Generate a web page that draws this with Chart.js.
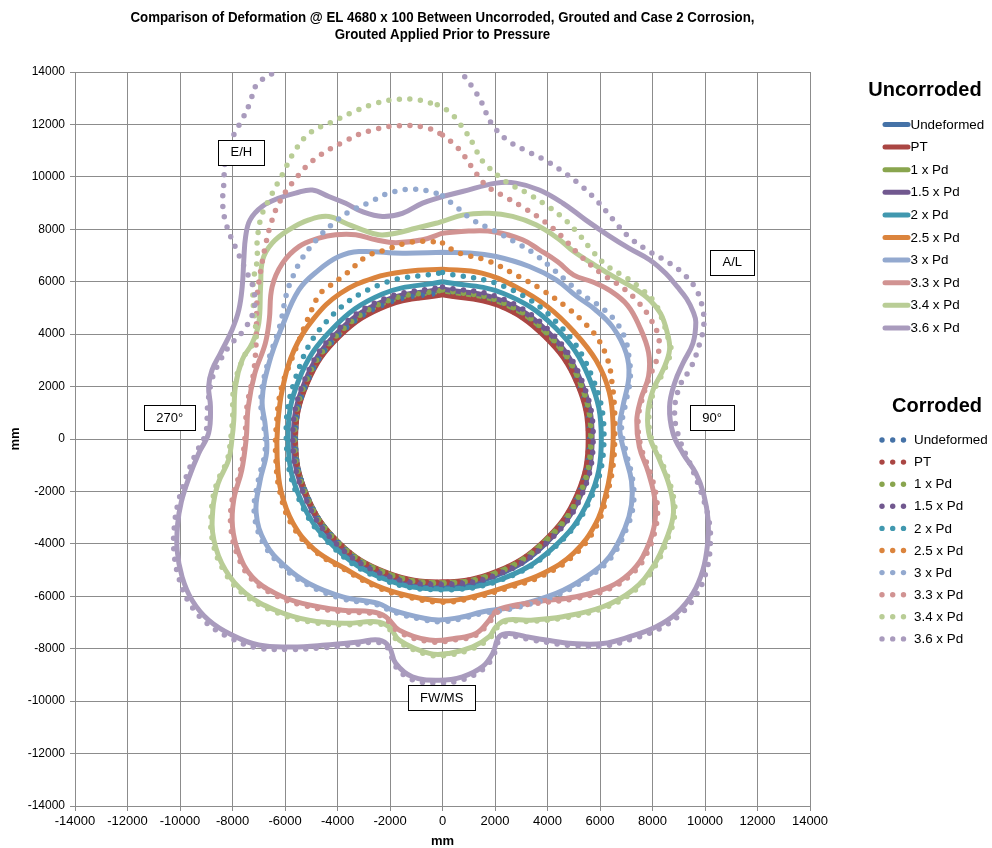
<!DOCTYPE html>
<html>
<head>
<meta charset="utf-8">
<script src="https://cdn.jsdelivr.net/npm/chart.js@4.4.1/dist/chart.umd.min.js"></script>
<style>
  html, body { margin: 0; padding: 0; background: #fff; }
  canvas { display: block; }
</style>
</head>
<body>
<canvas id="chart" width="992" height="848"></canvas>
<script>
// ---- Chart text ----
const titleLines = [
  'Comparison of Deformation @ EL 4680 x 100 Between Uncorroded, Grouted and Case 2 Corrosion,',
  'Grouted Applied Prior to Pressure'
];
const axisTitle = 'mm';
const tickValues = [-14000, -12000, -10000, -8000, -6000, -4000, -2000, 0, 2000, 4000, 6000, 8000, 10000, 12000, 14000];
const seriesNames = ['Undeformed', 'PT', '1 x Pd', '1.5 x Pd', '2 x Pd', '2.5 x Pd', '3 x Pd', '3.3 x Pd', '3.4 x Pd', '3.6 x Pd'];
const groupTitles = ['Uncorroded', 'Corroded'];
const sectionLabels = ['E/H', 'A/L', '270°', '90°', 'FW/MS'];
const sectionAt = [[-7660, 10940], [11040, 6740], [-10390, 820], [10270, 820], [-30, -9870]];

// ---- Shell contours, [x, y] in mm, traced clockwise from the top ----
const uncUndeformed = [[0,5600],[2140,5170],[3960,3960],[5170,2140],[5600,0],[5170,-2140],[3960,-3960],[2140,-5170],[0,-5600],[-2140,-5170],[-3960,-3960],[-5170,-2140],[-5600,0],[-5170,2140],[-3960,3960],[-2140,5170],[0,5600]];
const uncPT = [[0,5500],[2110,5100],[3900,3900],[5130,2120],[5550,0],[5130,-2110],[3880,-3880],[2090,-5040],[0,-5450],[-2120,-5100],[-3950,-3950],[-5170,-2140],[-5600,0],[-5150,2130],[-3920,3920],[-2110,5090],[0,5500]];
const unc1Pd = [[0,5650],[2170,5230],[4000,4000],[5230,2170],[5650,0],[5200,-2150],[3900,-3900],[2100,-5080],[0,-5480],[-2120,-5120],[-3960,-3960],[-5180,-2150],[-5620,0],[-5200,2150],[-3980,3980],[-2160,5220],[0,5650]];
const unc15Pd = [[0,5720],[2200,5300],[4050,4050],[5280,2190],[5700,0],[5250,-2170],[3950,-3950],[2130,-5130],[0,-5520],[-2150,-5180],[-4000,-4000],[-5230,-2170],[-5680,0],[-5250,2170],[-4030,4030],[-2190,5280],[0,5720]];
const unc2Pd = [[0,6000],[2300,5560],[4270,4270],[5590,2320],[6050,0],[5580,-2310],[4180,-4180],[2220,-5350],[0,-5720],[-2210,-5340],[-4120,-4120],[-5430,-2250],[-5880,0],[-5470,2270],[-4200,4200],[-2290,5530],[0,6000]];
const unc25Pd = [[0,6480],[1500,6330],[2800,5800],[4000,5050],[5000,4100],[5850,3000],[6350,1800],[6500,500],[6450,-800],[6250,-2000],[5850,-3200],[5000,-4350],[3820,-5130],[2420,-5640],[1000,-6050],[0,-6180],[-1300,-5980],[-2500,-5600],[-3700,-4950],[-4900,-4200],[-5700,-3200],[-6150,-2000],[-6300,-700],[-6280,500],[-6100,1900],[-5650,3400],[-4900,4600],[-3900,5550],[-2600,6150],[-1300,6400],[0,6480]];
const unc3Pd = [[0,7120],[1000,7100],[2040,6960],[3310,6580],[4330,6070],[5100,5450],[5800,4950],[6500,4250],[7000,3270],[7100,2380],[6870,1230],[6750,400],[6950,-600],[7200,-1600],[7200,-2500],[6950,-3400],[6360,-4490],[5470,-5260],[4330,-5890],[2670,-6400],[1500,-6600],[700,-6800],[-100,-6900],[-700,-6840],[-1900,-6530],[-2450,-6270],[-3800,-6020],[-5090,-5510],[-5980,-4870],[-6740,-3980],[-7100,-2800],[-6950,-1600],[-6700,-500],[-6750,500],[-6870,1490],[-6610,2890],[-6110,4290],[-5470,5690],[-4710,6450],[-3950,6960],[-3180,7150],[-1530,7090],[0,7120]];
const unc33Pd = [[0,7850],[1000,7930],[2000,7900],[3050,7600],[3700,7210],[4400,6750],[5000,6250],[5700,6000],[6400,5650],[7050,5100],[7500,4300],[7850,3300],[7850,2400],[7550,1500],[7400,700],[7500,-300],[7850,-1300],[8100,-2400],[8050,-3400],[7630,-4490],[7120,-5130],[6360,-5640],[5090,-6020],[3560,-6210],[2400,-6420],[2000,-6600],[1750,-6950],[1270,-7420],[500,-7600],[-500,-7670],[-1650,-7290],[-2160,-6780],[-2700,-6590],[-3820,-6530],[-5340,-6270],[-6360,-5890],[-7250,-5260],[-7760,-4360],[-8000,-3350],[-7950,-2300],[-7650,-1200],[-7480,0],[-7400,1230],[-7150,2500],[-6750,3650],[-6600,4540],[-6490,5810],[-6100,6700],[-5470,7340],[-4710,7660],[-4070,7790],[-3310,7790],[-2540,7600],[-1780,7490],[-760,7600],[0,7850]];
const unc34Pd = [[0,8300],[800,8550],[1780,8610],[2670,8490],[3560,8170],[4400,7650],[5000,7150],[5700,6700],[6500,6200],[7300,5750],[7900,5300],[8300,4800],[8550,4100],[8650,3400],[8400,2630],[8020,1870],[7820,980],[7890,90],[8270,-800],[8650,-1820],[8800,-2800],[8560,-3730],[8020,-4870],[7250,-5760],[6110,-6400],[4580,-6780],[3310,-6910],[2420,-6910],[2040,-7160],[1780,-7540],[1150,-7930],[250,-8180],[-500,-8180],[-1650,-7670],[-2040,-7160],[-2540,-6970],[-3690,-7030],[-5090,-6910],[-6360,-6530],[-7500,-5890],[-8270,-5000],[-8710,-3850],[-8750,-2700],[-8550,-1700],[-8150,-800],[-8020,0],[-7950,730],[-7890,2000],[-7630,3020],[-7250,3650],[-7000,4410],[-6930,5810],[-6850,6830],[-6490,7470],[-5850,7980],[-5090,8360],[-4330,8490],[-3690,8230],[-3050,7980],[-2420,7790],[-1780,7850],[-1020,8040],[-250,8230],[0,8300]];
const unc36Pd = [[0,9250],[760,9440],[2040,9760],[2800,9760],[3690,9500],[4580,9000],[5450,8360],[6300,7780],[7100,7280],[7900,6830],[8500,6320],[8950,5800],[9300,5350],[9550,4850],[9650,4450],[9540,3650],[9160,2890],[8840,2130],[8650,1230],[8780,220],[9160,-550],[9650,-1300],[9950,-2100],[10120,-3100],[10100,-4000],[9920,-5000],[9540,-5890],[8910,-6650],[8140,-7160],[7130,-7540],[6110,-7800],[4960,-7800],[3950,-7670],[3180,-7540],[2540,-7420],[2160,-7540],[1910,-8180],[1530,-8680],[760,-9070],[-130,-9200],[-1150,-9070],[-1780,-8560],[-2030,-7930],[-2420,-7670],[-3180,-7740],[-4450,-7860],[-5730,-7930],[-7000,-7860],[-8020,-7480],[-8910,-6910],[-9540,-6150],[-9920,-5260],[-10110,-4240],[-10090,-3250],[-9950,-2400],[-9670,-1500],[-9290,-550],[-8910,220],[-8840,1230],[-8910,2000],[-8780,2630],[-8460,3270],[-8020,4160],[-7760,4920],[-7630,5810],[-7570,6830],[-7500,7720],[-7330,8360],[-6870,8870],[-6230,9190],[-5600,9380],[-4960,9500],[-4330,9250],[-3690,8990],[-3050,8670],[-2290,8490],[-1530,8610],[-760,9000],[0,9250]];

const corUndeformed = [[0,5600],[2140,5170],[3960,3960],[5170,2140],[5600,0],[5170,-2140],[3960,-3960],[2140,-5170],[0,-5600],[-2140,-5170],[-3960,-3960],[-5170,-2140],[-5600,0],[-5170,2140],[-3960,3960],[-2140,5170],[0,5600]];
const corPT = [[0,5530],[2120,5120],[3920,3920],[5150,2130],[5570,0],[5150,-2120],[3900,-3900],[2100,-5060],[0,-5470],[-2130,-5120],[-3960,-3960],[-5180,-2150],[-5610,0],[-5170,2140],[-3940,3940],[-2120,5110],[0,5530]];
const cor1Pd = [[0,5680],[2180,5250],[4010,4010],[5240,2170],[5660,0],[5210,-2160],[3910,-3910],[2110,-5090],[0,-5500],[-2130,-5130],[-3970,-3970],[-5190,-2150],[-5640,0],[-5210,2160],[-3990,3990],[-2170,5240],[0,5680]];
const cor15Pd = [[0,5800],[2230,5370],[4100,4100],[5320,2200],[5740,0],[5280,-2190],[3970,-3970],[2140,-5160],[0,-5550],[-2160,-5210],[-4020,-4020],[-5250,-2180],[-5700,0],[-5280,2190],[-4070,4070],[-2220,5350],[0,5800]];
const cor2Pd = [[0,6350],[2400,5800],[4400,4400],[5700,2370],[6150,0],[5620,-2330],[4200,-4200],[2230,-5380],[0,-5750],[-2230,-5380],[-4150,-4150],[-5480,-2270],[-5950,0],[-5600,2320],[-4450,4450],[-2430,5870],[0,6350]];
const cor25Pd = [[0,7480],[500,7150],[900,7020],[1800,6770],[2900,6200],[3700,5750],[4700,5050],[5350,4480],[5900,3850],[6300,3000],[6450,2200],[6550,1200],[6560,0],[6500,-1000],[6300,-2000],[5900,-3250],[5050,-4400],[3850,-5200],[2450,-5700],[1000,-6100],[0,-6230],[-1300,-6030],[-2500,-5650],[-3700,-5000],[-4900,-4250],[-5750,-3250],[-6200,-2000],[-6350,-700],[-6330,500],[-6150,1900],[-5800,2900],[-5450,3800],[-5100,4650],[-4700,5500],[-4330,5810],[-3650,6320],[-2900,6960],[-2150,7220],[-1400,7470],[-700,7540],[0,7480]];
const cor3Pd = [[0,9280],[500,8880],[1150,8360],[1970,7950],[2740,7530],[3440,7110],[4070,6600],[4710,6040],[5340,5500],[6040,5030],[6550,4540],[6930,3900],[7100,3150],[7150,2300],[6950,1230],[6820,400],[7020,-600],[7250,-1600],[7270,-2500],[7020,-3400],[6420,-4530],[5520,-5310],[4370,-5950],[2700,-6460],[1500,-6660],[700,-6860],[-100,-6970],[-700,-6900],[-1900,-6590],[-2450,-6330],[-3850,-6080],[-5140,-5560],[-6040,-4920],[-6800,-4020],[-7170,-2830],[-7020,-1600],[-6760,-500],[-6800,500],[-6920,1490],[-6660,2890],[-6200,4300],[-5950,5500],[-5730,6130],[-5340,6900],[-4800,7600],[-4250,8150],[-3560,8670],[-2800,9020],[-2040,9380],[-1200,9530],[-500,9450],[0,9280]];
const cor33Pd = [[0,11600],[400,11280],[700,10970],[1150,10330],[1680,9660],[2420,9220],[3180,8770],[3880,8300],[4520,7750],[5220,7020],[6040,6320],[6810,5810],[7440,5240],[7950,4540],[8250,3780],[8150,3000],[7900,2400],[7600,1500],[7450,700],[7560,-300],[7920,-1300],[8170,-2400],[8120,-3400],[7700,-4530],[7180,-5180],[6400,-5700],[5120,-6080],[3580,-6270],[2420,-6470],[2030,-6660],[1780,-7000],[1280,-7480],[500,-7660],[-500,-7730],[-1680,-7350],[-2180,-6840],[-2720,-6650],[-3830,-6590],[-5370,-6330],[-6400,-5950],[-7300,-5320],[-7820,-4400],[-8060,-3380],[-8010,-2300],[-7700,-1200],[-7530,0],[-7450,1230],[-7200,2500],[-7100,3700],[-7060,5430],[-6930,6390],[-6740,7400],[-6550,8170],[-6230,9000],[-5700,9800],[-4900,10650],[-3750,11340],[-2800,11750],[-1650,11950],[-600,11870],[0,11600]];
const cor34Pd = [[-200,12750],[300,12450],[600,12100],[900,11700],[1200,11200],[1450,10700],[1750,10370],[2410,9820],[3180,9400],[3880,8970],[4550,8470],[5150,7860],[5730,7150],[6300,6580],[7060,6120],[7600,5700],[8050,5250],[8330,4670],[8580,3900],[8700,3400],[8450,2630],[8070,1870],[7870,980],[7940,90],[8320,-800],[8700,-1820],[8850,-2800],[8610,-3730],[8070,-4900],[7300,-5800],[6150,-6450],[4600,-6830],[3320,-6960],[2430,-6960],[2060,-7210],[1800,-7600],[1160,-7990],[250,-8240],[-500,-8240],[-1670,-7730],[-2060,-7220],[-2560,-7030],[-3700,-7090],[-5110,-6970],[-6400,-6590],[-7550,-5940],[-8320,-5040],[-8760,-3880],[-8800,-2700],[-8600,-1700],[-8200,-800],[-8070,0],[-8000,730],[-7940,2000],[-7500,3270],[-7120,3780],[-7150,4540],[-7220,5310],[-7200,6070],[-7060,6830],[-7060,7530],[-6900,8490],[-6550,9250],[-6110,10070],[-5600,11030],[-5030,11690],[-4260,12070],[-3500,12430],[-2710,12750],[-1880,12940],[-1040,12950],[-200,12750]];
const cor36Pd = [[-1000,15300],[300,14500],[640,14080],[1150,13410],[1500,12820],[1850,12060],[2440,11420],[3180,11000],[3940,10620],[4640,10160],[5320,9630],[5920,9050],[6490,8380],[7060,7750],[7740,7240],[8500,6800],[9160,6320],[9670,5690],[9920,4920],[9950,4300],[9800,3650],[9480,2760],[9030,2000],[8840,980],[9030,0],[9480,-1060],[9860,-2070],[10150,-3100],[10200,-4050],[10050,-5050],[9660,-5960],[9020,-6730],[8240,-7250],[7220,-7630],[6190,-7890],[5020,-7890],[4000,-7760],[3220,-7630],[2570,-7510],[2190,-7630],[1930,-8280],[1550,-8780],[770,-9180],[-130,-9310],[-1160,-9180],[-1800,-8660],[-2050,-8020],[-2450,-7760],[-3220,-7830],[-4500,-7960],[-5800,-8030],[-7090,-7960],[-8120,-7570],[-9020,-6990],[-9660,-6230],[-10040,-5320],[-10230,-4290],[-10210,-3290],[-10070,-2430],[-9790,-1520],[-9400,-560],[-9020,220],[-8950,1230],[-8800,2200],[-8590,2760],[-8140,3520],[-7570,4160],[-7190,4920],[-7190,5690],[-7500,6450],[-7890,7320],[-8210,8100],[-8370,8900],[-8330,9760],[-8270,10650],[-8040,11410],[-7600,12250],[-7350,12780],[-7060,13540],[-6360,14020],[-5200,14900],[-3200,15400],[-1000,15300]];

const uncorroded = [uncUndeformed, uncPT, unc1Pd, unc15Pd, unc2Pd, unc25Pd, unc3Pd, unc33Pd, unc34Pd, unc36Pd];
const corroded = [corUndeformed, corPT, cor1Pd, cor15Pd, cor2Pd, cor25Pd, cor3Pd, cor33Pd, cor34Pd, cor36Pd];

// ---- Styling ----
const palette = ['#4572A7', '#AA4643', '#89A54E', '#71588F', '#4198AF', '#DB843D', '#93A9CF', '#D19392', '#B9CD96', '#A99BBD'];
const SANS = '"Liberation Sans", Arial, Helvetica, sans-serif';
const NARROW = '"Liberation Sans Narrow", "Arial Narrow", "Liberation Sans", sans-serif';
const GRID = '#8c8c8c';
const DOT_DASH = [0, 10.5];
const TITLE_WIDTH = 624;   // condensed title line width in px

const toPoints = arr => arr.map(([x, y]) => ({ x, y }));

const datasets = [];
uncorroded.forEach((d, i) => datasets.push({
  label: groupTitles[0] + ' ' + seriesNames[i],
  data: toPoints(d),
  showLine: true,
  borderColor: palette[i],
  backgroundColor: palette[i],
  borderWidth: 5,
  borderJoinStyle: 'round',
  pointRadius: 0,
  tension: 0.4,
  fill: false,
  order: -i
}));
corroded.forEach((d, i) => datasets.push({
  label: groupTitles[1] + ' ' + seriesNames[i],
  data: toPoints(d),
  showLine: true,
  borderColor: palette[i],
  backgroundColor: palette[i],
  borderWidth: 5.5,
  borderDash: DOT_DASH,
  borderCapStyle: 'round',
  pointRadius: 0,
  tension: 0.4,
  fill: false,
  order: -(10 + i)
}));

// Title, axis titles, section markers and the two grouped legends
const decorations = {
  id: 'decorations',
  afterDatasetsDraw(chart) {
    const { ctx, scales: { x, y } } = chart;
    ctx.save();
    ctx.font = '13px ' + SANS;
    ctx.textAlign = 'center';
    ctx.textBaseline = 'middle';
    sectionLabels.forEach((t, i) => {
      const px = x.getPixelForValue(sectionAt[i][0]);
      const py = y.getPixelForValue(sectionAt[i][1]);
      const w = Math.round(ctx.measureText(t).width + 24);
      const h = 25;
      const bx = Math.round(px - w / 2) + 0.5, by = Math.round(py - h / 2) + 0.5;
      ctx.fillStyle = '#fff';
      ctx.fillRect(bx, by, w, h);
      ctx.strokeStyle = '#000';
      ctx.lineWidth = 1;
      ctx.strokeRect(bx, by, w, h);
      ctx.fillStyle = '#000';
      ctx.fillText(t, px, py + 0.5);
    });
    ctx.restore();
  },
  afterDraw(chart) {
    const { ctx, chartArea: a } = chart;
    ctx.save();
    const cx = (a.left + a.right) / 2;
    ctx.fillStyle = '#000';
    ctx.textAlign = 'center';
    ctx.textBaseline = 'middle';

    // two-line bold title, condensed horizontally
    ctx.font = 'bold 15px ' + NARROW;
    const sx = Math.min(1, TITLE_WIDTH / ctx.measureText(titleLines[0]).width);
    titleLines.forEach((t, i) => {
      ctx.save();
      ctx.translate(cx, 18 + i * 17);
      ctx.scale(sx, 1);
      ctx.fillText(t, 0, 0);
      ctx.restore();
    });

    ctx.font = 'bold 13px ' + SANS;
    ctx.fillText(axisTitle, cx, 841);
    ctx.save();
    ctx.translate(15, (a.top + a.bottom) / 2);
    ctx.rotate(-Math.PI / 2);
    ctx.fillText(axisTitle, 0, 0);
    ctx.restore();

    // Uncorroded legend: line samples
    ctx.font = 'bold 20px ' + SANS;
    ctx.fillText(groupTitles[0], 925, 90);
    ctx.textAlign = 'left';
    ctx.font = '13.4px ' + SANS;
    seriesNames.forEach((n, i) => {
      const ly = 124.5 + i * 22.6;
      ctx.strokeStyle = palette[i];
      ctx.lineWidth = 5;
      ctx.lineCap = 'round';
      ctx.beginPath();
      ctx.moveTo(885, ly);
      ctx.lineTo(908, ly);
      ctx.stroke();
      ctx.fillStyle = '#000';
      ctx.fillText(n, 910.5, ly + 0.5);
    });

    // Corroded legend: dotted samples
    ctx.textAlign = 'center';
    ctx.font = 'bold 20px ' + SANS;
    ctx.fillText(groupTitles[1], 937, 406);
    ctx.textAlign = 'left';
    ctx.font = '13.4px ' + SANS;
    seriesNames.forEach((n, i) => {
      const ly = 440 + i * 22.1;
      ctx.fillStyle = palette[i];
      [882, 892.7, 903.5].forEach(dx => {
        ctx.beginPath();
        ctx.arc(dx, ly, 2.7, 0, Math.PI * 2);
        ctx.fill();
      });
      ctx.fillStyle = '#000';
      ctx.fillText(n, 914, ly + 0.5);
    });
    ctx.restore();
  }
};

const axisCommon = {
  type: 'linear',
  min: tickValues[0],
  max: tickValues[tickValues.length - 1],
  afterBuildTicks: s => { s.ticks = tickValues.map(v => ({ value: v })); },
  grid: { color: GRID, lineWidth: 1, tickLength: 5, tickColor: GRID },
  border: { color: GRID, width: 1 }
};

new Chart(document.getElementById('chart'), {
  type: 'scatter',
  data: { datasets },
  options: {
    responsive: false,
    animation: false,
    events: [],
    layout: { padding: { top: 72, right: 182, bottom: 0, left: 0 } },
    plugins: { legend: { display: false }, tooltip: { enabled: false }, title: { display: false } },
    scales: {
      x: Object.assign({}, axisCommon, {
        position: 'bottom',
        ticks: { autoSkip: false, maxRotation: 0, padding: 3, color: '#000', font: { family: NARROW, size: 13 }, callback: v => String(v) },
        afterFit: s => { s.height = 42; }
      }),
      y: Object.assign({}, axisCommon, {
        position: 'left',
        ticks: { autoSkip: false, padding: 5, color: '#000', font: { family: SANS, size: 12 }, callback: v => String(v) },
        afterFit: s => { s.width = 75; }
      })
    }
  },
  plugins: [decorations]
});
</script>
</body>
</html>
